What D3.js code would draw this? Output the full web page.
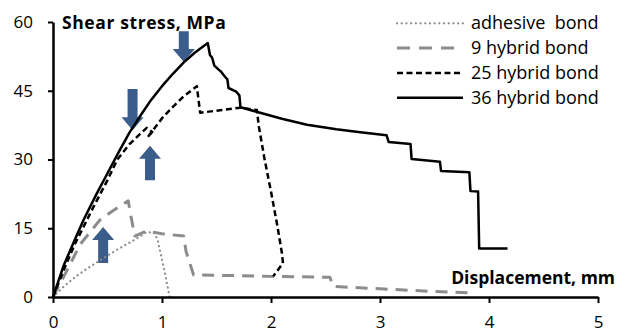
<!DOCTYPE html>
<html><head><meta charset="utf-8">
<script src="https://cdn.jsdelivr.net/npm/d3@7"></script>
<style>
body{margin:0;background:#fff;}
svg{display:block;}
text{font-family:"Open Sans",sans-serif;}
</style></head>
<body>
<svg id="c" width="619" height="333"></svg>
<script>
const xTicks = [0,1,2,3,4,5];
const yTicks = [0,15,30,45,60];
const seriesNames = ["adhesive  bond","9 hybrid bond","25 hybrid bond","36 hybrid bond"];
const xLabel = "Displacement, mm";
const yLabel = "Shear stress, MPa";

const adhesive = [[0,0],[0.1,2.3],[0.2,4.3],[0.3,6],[0.43,8],[0.6,10.5],[0.75,12.5],[0.86,14.2],[0.93,14],[0.96,12.5],[1.02,6],[1.07,0]];
const hybrid9 = [[0,0],[0.1,4.5],[0.25,11.5],[0.43,16.8],[0.55,18.8],[0.69,21],[0.72,17],[0.75,13.3],[0.86,14.4],[1.0,13.8],[1.2,13.3],[1.22,10],[1.29,4.8],[1.6,4.7],[2.0,4.5],[2.54,4.3],[2.57,2.3],[3.0,1.8],[3.5,1.2],[3.83,0.9]];
const hybrid25 = [[0,0],[0.1,6],[0.2,11.5],[0.37,19.6],[0.5,25.5],[0.59,30],[0.7,33.3],[0.8,35.6],[0.86,36.9],[0.91,36],[0.87,34.9],[1.0,39],[1.1,41.5],[1.2,43.8],[1.32,46],[1.33,44],[1.35,40.2],[1.55,40.8],[1.72,41.3],[1.87,40.8],[1.89,37],[1.94,30.2],[2.0,23],[2.06,15.3],[2.1,9.6],[2.11,7.4],[2.02,4.5]];
const hybrid36 = [[0,0],[0.05,3.5],[0.1,7],[0.2,12.5],[0.28,16.8],[0.4,22.5],[0.5,27],[0.6,31.5],[0.7,35.8],[0.8,39.5],[0.9,43],[1.0,46],[1.1,48.7],[1.2,51.2],[1.3,53.3],[1.42,55.4],[1.44,52.8],[1.46,52.2],[1.48,50.5],[1.52,49.6],[1.54,49.2],[1.58,48],[1.6,47.5],[1.61,45.6],[1.68,44.8],[1.71,44],[1.72,41.4],[1.9,40.2],[2.1,38.9],[2.33,37.6],[2.6,36.6],[2.8,36],[3.06,35.3],[3.08,33.8],[3.28,33.4],[3.29,30.1],[3.55,29.5],[3.56,27.5],[3.82,27.2],[3.83,23.1],[3.9,23],[3.91,10.6],[4.17,10.6]];

// arrows: tip (x,y) and tail y, data units
const arrows = [
  {x:1.20, y:51.3, tail:58.0},
  {x:0.73, y:36.4, tail:45.4},
  {x:0.89, y:33.0, tail:25.5},
  {x:0.46, y:15.3, tail:7.4}
];

const svg = d3.select("#c");
const x = d3.scaleLinear().domain([0,5]).range([53,598]);
const y = d3.scaleLinear().domain([0,60]).range([297,22]);

const styles = [
  {stroke:"#8c8c8c", width:2.2, dash:"0.1 4.6", cap:"round"},
  {stroke:"#8c8c8c", width:3, dash:"12 8", cap:"butt"},
  {stroke:"#000", width:2.5, dash:"6 3.5", cap:"butt"},
  {stroke:"#000", width:2.5, dash:null, cap:"butt"}
];
const all = [adhesive, hybrid9, hybrid25, hybrid36];

const line = d3.line().x(d=>x(d[0])).y(d=>y(d[1]));

// arrows
const arrowColor = "#3a5d8c";
arrows.forEach(a=>{
  const tx = x(a.x), ty = y(a.y), tl = y(a.tail);
  const dir = tl < ty ? -1 : 1;
  const hl = 13, hw = 11, sw = 5;
  const base = ty + dir*hl;
  const pts = [[tx,ty],[tx+hw,base],[tx+sw,base],[tx+sw,tl],[tx-sw,tl],[tx-sw,base],[tx-hw,base]];
  svg.append("path").attr("d","M"+pts.map(p=>p.join(",")).join("L")+"Z").attr("fill",arrowColor);
});

all.forEach((s,i)=>{
  const st = styles[i];
  svg.append("path").datum(s).attr("d",line).attr("fill","none")
    .attr("stroke",st.stroke).attr("stroke-width",st.width)
    .attr("stroke-dasharray",st.dash).attr("stroke-linecap",st.cap)
    .attr("stroke-linejoin","round");
});

// axes
const xAxis = d3.axisBottom(x).tickValues(xTicks).tickFormat(d3.format("d")).tickSize(6).tickSizeOuter(0).tickPadding(13);
const yAxis = d3.axisLeft(y).tickValues(yTicks).tickFormat(d3.format("d")).tickSize(5).tickSizeOuter(0).tickPadding(15);
const gx = svg.append("g").attr("transform",`translate(0,${y(0)})`).call(xAxis);
const gy = svg.append("g").attr("transform",`translate(${x(0)},0)`).call(yAxis);
[gx,gy].forEach(g=>{
  g.select(".domain").attr("stroke","#000").attr("stroke-width",2.5);
  g.selectAll(".tick line").attr("stroke","#000").attr("stroke-width",2);
  g.selectAll(".tick text").attr("font-size",17).attr("fill","#000").attr("font-family","'Open Sans',sans-serif");
});
gx.selectAll(".tick text").attr("dy","0.71em");

svg.append("text").attr("x",62).attr("y",28.5).attr("font-size",17.5).attr("font-weight","bold").attr("letter-spacing","0.6").text(yLabel);
svg.append("text").attr("x",615).attr("y",284).attr("text-anchor","end").attr("font-size",17.5).attr("font-weight","bold").text(xLabel);

// legend
const lg = svg.append("g");
seriesNames.forEach((n,i)=>{
  const st = styles[i];
  const ly = 23.3 + i*24.8;
  lg.append("line").attr("x1",397).attr("x2",463).attr("y1",ly).attr("y2",ly)
    .attr("stroke",st.stroke).attr("stroke-width",st.width)
    .attr("stroke-dasharray",i===1?"13 9":st.dash).attr("stroke-linecap",st.cap);
  lg.append("text").attr("x",471).attr("y",ly+6).attr("font-size",18).attr("fill","#000").style("white-space","pre").text(n);
});
</script>
</body></html>
